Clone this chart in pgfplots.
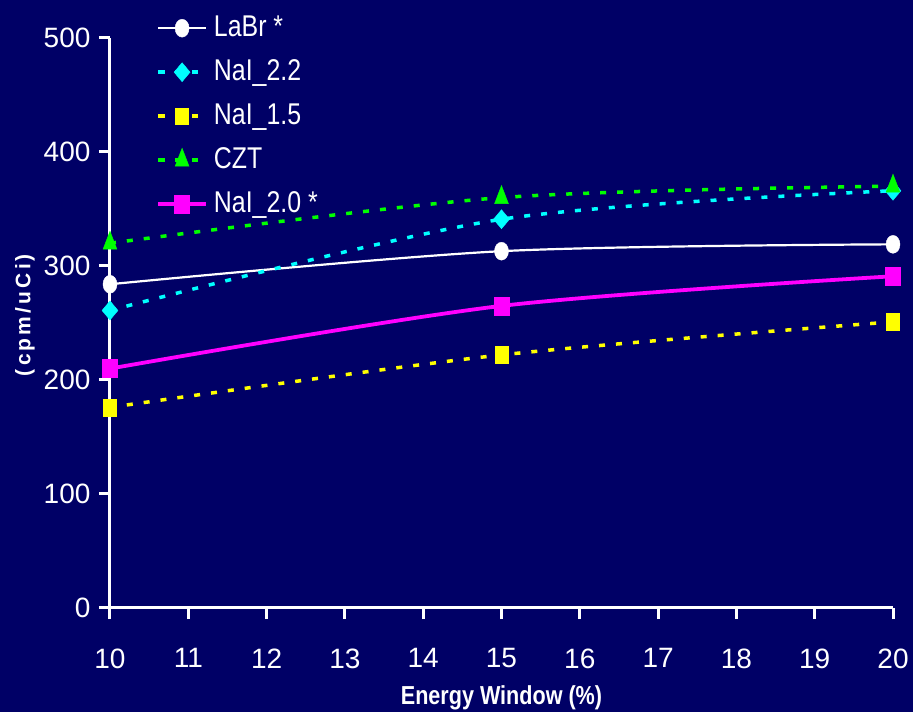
\documentclass[border=0pt]{standalone}
\usepackage{fontspec}
\setmainfont{Liberation Sans}
\newfontfamily\legendfont[FakeStretch=0.83]{Liberation Sans}
\newfontfamily\xlabfont[FakeStretch=0.83]{Liberation Sans}
\newfontfamily\ylabfont[LetterSpace=15]{Liberation Sans}
\usepackage{pgfplots}
\pgfplotsset{compat=1.18}

\definecolor{navy}{RGB}{0,0,102}
\definecolor{labr}{RGB}{255,255,255}
\definecolor{nai22}{RGB}{0,255,255}
\definecolor{nai15}{RGB}{255,255,0}
\definecolor{czt}{RGB}{0,255,0}
\definecolor{nai20}{RGB}{255,0,255}

\tikzset{dotted line/.style={line width=3.5pt, dash pattern=on 6pt off 11pt}}

\begin{document}
\begin{tikzpicture}
% page background
\fill[navy] (-110pt,-104pt) rectangle (803pt,608pt);
\begin{axis}[
    scale only axis,
    width=783pt, height=570pt,
    at={(0pt,0pt)}, anchor=south west,
    xmin=10, xmax=20, ymin=0, ymax=500,
    xtick={10,11,...,20},
    ytick={0,100,...,500},
    axis x line=bottom, axis y line=left,
    axis line style={white, line width=3pt, -},
    tick style={white, line width=3pt},
    tick align=outside,
    major tick length=11pt,
    clip=false,
    /pgf/number format/assume math mode=true,
    tick label style={text=white, font=\fontsize{28}{30}\selectfont},
    xticklabel style={yshift=-26pt},
    yticklabel style={xshift=-5pt},
    xlabel={\xlabfont\bfseries Energy Window (\%)},
    xlabel style={text=white, font=\fontsize{26}{28}\selectfont,
        at={(axis description cs:0.5,0)}, anchor=base, yshift=-96pt},
    ylabel={\ylabfont\bfseries (cpm/uCi)},
    ylabel style={text=white, font=\fontsize{21}{23}\selectfont,
        at={(axis description cs:-0.1086,0.514)}, anchor=center},
    legend cell align=left,
    legend style={draw=none, fill=none, text=white,
        font=\legendfont\fontsize{30}{32}\selectfont,
        at={(axis description cs:0,1)}, anchor=north west,
        xshift=43pt, yshift=26pt,
        nodes={text height=22pt, text depth=6pt, inner sep=0pt},
        row sep=16pt, column sep=6pt},
    legend image code/.code={%
        \draw[mark repeat=2,mark phase=2] plot coordinates {(0pt,0pt) (24pt,0pt) (48pt,0pt)};},
]

% LaBr
\addplot[labr, line width=2.2pt, smooth, mark=*, mark size=7pt,
    mark options={solid, line width=0.4pt, fill=labr, yscale=1.28}]
    coordinates {(10,284) (15,313) (20,319)};
\addlegendentry{LaBr *}

% NaI 2.2
\addplot[nai22, dotted line, smooth, mark=diamond*, mark size=9.5pt,
    mark options={solid, line width=0.4pt, fill=nai22, xscale=1.12}]
    coordinates {(10,261) (15,341) (20,366)};
\addlegendentry{NaI\_2.2}

% NaI 1.5
\addplot[nai15, dotted line, smooth, mark=square*, mark size=6.5pt,
    mark options={solid, line width=0.4pt, fill=nai15, yscale=1.3}]
    coordinates {(10,176) (15,222) (20,251)};
\addlegendentry{NaI\_1.5}

% CZT
\addplot[czt, dotted line, smooth, mark=triangle*, mark size=8pt,
    mark options={solid, line width=0.4pt, fill=czt, yscale=1.5}]
    coordinates {(10,320) (15,360) (20,370)};
\addlegendentry{CZT}

% NaI 2.0
\addplot[nai20, line width=3.8pt, smooth, mark=square*, mark size=7.5pt,
    mark options={solid, line width=0.4pt, fill=nai20, yscale=1.2}]
    coordinates {(10,210) (15,265) (20,291)};
\addlegendentry{NaI\_2.0 *}

\end{axis}
\pgfresetboundingbox
\useasboundingbox (-110pt,-104pt) rectangle (803pt,608pt);
\end{tikzpicture}
\end{document}
